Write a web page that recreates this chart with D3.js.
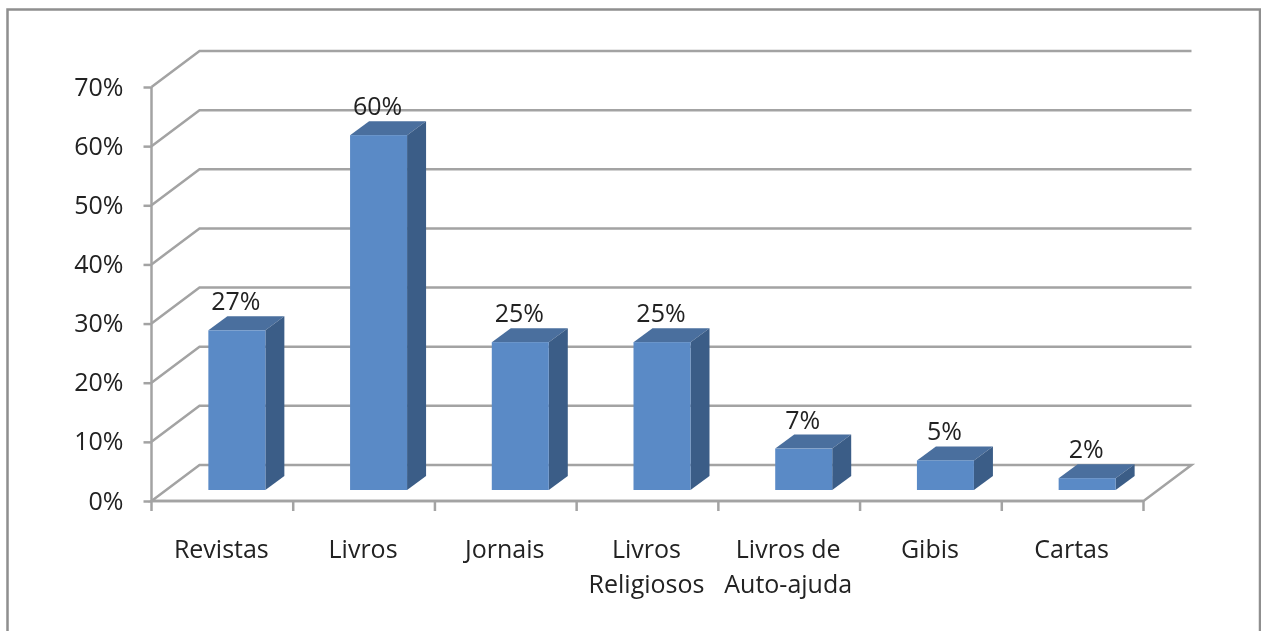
<!DOCTYPE html>
<html><head><meta charset="utf-8">
<script src="https://cdn.jsdelivr.net/npm/d3@7"></script>
<style>
html,body{margin:0;padding:0;background:#fff;overflow:hidden}
svg{display:block;filter:blur(0.5px)}
text{font-family:"Open Sans",sans-serif;fill:#222;font-size:25px}
</style></head><body>
<svg id="c" width="1261" height="631"></svg>
<script>
const categories=[["Revistas"],["Livros"],["Jornais"],["Livros","Religiosos"],["Livros de","Auto-ajuda"],["Gibis"],["Cartas"]];
const values=[27,60,25,25,7,5,2];
const yTicks=[0,10,20,30,40,50,60,70];

const W=1261,H=631;
const svg=d3.select("#c");
const GRID="#a3a3a3";
const wallDx=48,wallDy=-36;
const barDx=19,barDy=-14;
const x=d3.scaleBand().domain(categories.map(d=>d.join(" "))).range([151.5,1143.5]).paddingInner(0).paddingOuter(0);
const y=d3.scaleLinear().domain([0,70]).range([501,87]);
const barW=57;

// frame
svg.append("path").attr("d",`M7.5,${H} V9.5 H1260 V${H}`).attr("fill","none").attr("stroke","#8f8f8f").attr("stroke-width",2.5);

// walls
const g=svg.append("g").attr("fill","none").attr("stroke",GRID).attr("stroke-width",2.5);
yTicks.forEach(t=>{
  const p=d3.path();
  p.moveTo(x.range()[0],y(t));
  p.lineTo(x.range()[0]+wallDx,y(t)+wallDy);
  p.lineTo(x.range()[1]+wallDx,y(t)+wallDy);
  if(t===0){p.lineTo(x.range()[1],y(t));p.closePath();}
  g.append("path").attr("d",p.toString());
});

// axes
const yAxis=d3.axisLeft(y).tickValues(yTicks).tickSize(8).tickPadding(20).tickFormat(d=>d+"%");
const ya=svg.append("g").attr("transform",`translate(${x.range()[0]},0)`).call(yAxis);
ya.selectAll("path,line").attr("stroke",GRID).attr("stroke-width",2.5);
ya.selectAll("text").attr("fill","#222").style("font-size","25px").style("font-family",'"Open Sans",sans-serif');
ya.select(".domain").attr("d",`M0,${y(70)}V${y(0)}`);

const edges=x.domain().map(d=>x(d)).concat([x.range()[1]]);
const xa=svg.append("g").attr("transform",`translate(0,${y(0)})`);
xa.append("path").attr("d",`M${x.range()[0]},0H${x.range()[1]}`).attr("stroke",GRID).attr("stroke-width",2.5);
xa.selectAll("line").data(edges).join("line")
  .attr("x1",d=>d).attr("x2",d=>d).attr("y1",0).attr("y2",10)
  .attr("stroke",GRID).attr("stroke-width",2.5);

// bars
const cx=i=>x(categories[i].join(" "))+x.bandwidth()/2+(wallDx-barDx)/2;
const floorY=y(0)+(wallDy-barDy)/2;
const bars=svg.append("g");
values.forEach((v,i)=>{
  const l=cx(i)-barW/2, r=l+barW;
  const t=floorY-(y(0)-y(v)), b=floorY;
  bars.append("polygon").attr("fill","#4a6f9e")
    .attr("points",[[l,t],[r,t],[r+barDx,t+barDy],[l+barDx,t+barDy]].join(" "));
  bars.append("polygon").attr("fill","#3b5d87")
    .attr("points",[[r,t],[r+barDx,t+barDy],[r+barDx,b+barDy],[r,b]].join(" "));
  bars.append("rect").attr("x",l).attr("y",t).attr("width",barW).attr("height",b-t).attr("fill","#5a8ac6");
  svg.append("text").attr("x",cx(i)-1).attr("y",t+barDy-6).attr("text-anchor","middle").text(v+"%");
});

// category labels
categories.forEach((lines,i)=>{
  const c=x(lines.join(" "))+x.bandwidth()/2-1;
  lines.forEach((s,j)=>{
    svg.append("text").attr("x",c).attr("y",558+j*35).attr("text-anchor","middle").text(s);
  });
});
</script>
</body></html>
